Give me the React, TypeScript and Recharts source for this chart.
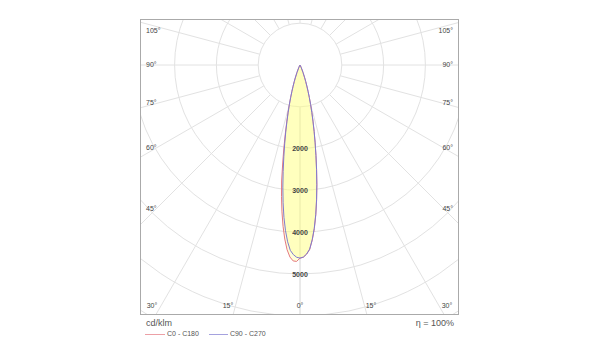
import React from "react";
import { RadarChart, Radar, PolarGrid, PolarAngleAxis, PolarRadiusAxis } from "recharts";

// gamma angles, degrees from nadir
const gamma = [0, 1, 2, 3, 4, 5, 6, 7, 8, 9, 10, 11, 12, 13, 14, 15, 16, 17, 18, 19, 20, 22, 25, 30, 35, 45, 60, 90, 120, 150, 180];
// luminous intensity, cd/klm
const c0 = [4620, 4600, 4530, 4420, 4200, 3930, 3610, 3260, 2900, 2540, 2200, 1900, 1630, 1380, 1170, 980, 810, 660, 530, 420, 330, 190, 75, 12, 0, 0, 0, 0, 0, 0, 0];
const c180 = [4620, 4700, 4690, 4600, 4430, 4180, 3880, 3540, 3180, 2810, 2380, 2020, 1700, 1420, 1190, 990, 820, 670, 540, 425, 335, 190, 75, 12, 0, 0, 0, 0, 0, 0, 0];
const c90 = [4620, 4595, 4525, 4410, 4190, 3920, 3600, 3250, 2890, 2530, 2195, 1895, 1625, 1378, 1168, 978, 808, 658, 528, 418, 328, 188, 74, 12, 0, 0, 0, 0, 0, 0, 0];
const c270 = [4620, 4600, 4540, 4440, 4240, 3980, 3670, 3320, 2950, 2580, 2230, 1920, 1640, 1390, 1175, 985, 815, 662, 532, 422, 332, 190, 75, 12, 0, 0, 0, 0, 0, 0, 0];

const ringLabels = [2000, 3000, 4000, 5000];
const sideAngleLabels = ["105°", "90°", "75°", "60°", "45°"];
const bottomAngleLabels = ["30°", "15°", "0°", "15°", "30°"];
const seriesNames = ["C0 - C180", "C90 - C270"];
const unitLabel = "cd/klm";
const efficiencyLabel = "η = 100%";

const RED = "#e47880";
const BLUE = "#7f7ad0";
const FONT = "'Liberation Sans', Arial, sans-serif";

// right half of the diagram is C0 / C90, left half C180 / C270
const rows = [
  ...gamma.map((g, i) => ({ pos: g, red: c0[i], blue: c90[i] })),
  ...gamma
    .map((g, i) => ({ pos: 360 - g, red: c180[i], blue: c270[i] }))
    .filter((r) => r.pos > 180 && r.pos < 360)
    .reverse(),
];

const pxPerCd = 41.8 / 1000;
const frame = { left: 140, top: 19, width: 319, height: 296 };
const center = { x: 300, y: 65 };

// label layout (page px)
const sideY = [31, 65, 103, 148, 209];
const bottomX = [152, 228, 300, 371, 447];

function RingTick(props: any) {
  const v = props.payload?.value;
  if (!ringLabels.includes(v)) return null;
  return (
    <text x={props.x} y={props.y} textAnchor="middle" dominantBaseline="central"
      fontSize={7} fontWeight="bold" fill="#444" fontFamily={FONT}>
      {v}
    </text>
  );
}

const small: React.CSSProperties = { position: "absolute", fontSize: 7, color: "#444", fontFamily: FONT, lineHeight: "8px", whiteSpace: "nowrap" };

export default function App() {
  return (
    <div style={{ position: "absolute", left: 0, top: 0, width: 600, height: 360, background: "#fff", fontFamily: FONT }}>
      <div style={{ position: "absolute", left: frame.left, top: frame.top, width: frame.width, height: frame.height, border: "1px solid #aaa", boxSizing: "border-box", overflow: "hidden" }}>
        <RadarChart
          width={frame.width - 2}
          height={frame.height - 2}
          data={rows}
          cx={center.x - frame.left - 1}
          cy={center.y - frame.top - 1}
          innerRadius={1000 * pxPerCd}
          outerRadius={8000 * pxPerCd}
          startAngle={-90}
          endAngle={270}
          margin={{ top: 0, right: 0, bottom: 0, left: 0 }}
        >
          <PolarGrid gridType="circle" stroke="#e2e2e2" />
          <PolarAngleAxis type="number" dataKey="pos" domain={[0, 360]} tickCount={25} tick={false} axisLine={false} />
          <Radar name={seriesNames[0]} dataKey="red" stroke={RED} strokeWidth={1} fill="#ffff80" fillOpacity={0.3} isAnimationActive={false} dot={false} />
          <Radar name={seriesNames[1]} dataKey="blue" stroke={BLUE} strokeWidth={1} fill="#ffff80" fillOpacity={0.3} isAnimationActive={false} dot={false} />
          <PolarRadiusAxis angle={-90} domain={[1000, 8000]} tickCount={8} allowDataOverflow axisLine={false} tick={RingTick} />
        </RadarChart>
      </div>

      {sideAngleLabels.map((t, i) => (
        <React.Fragment key={t}>
          <div style={{ ...small, left: 146, top: sideY[i] - 4 }}>{t}</div>
          <div style={{ ...small, right: 600 - 453, top: sideY[i] - 4 }}>{t}</div>
        </React.Fragment>
      ))}
      {bottomAngleLabels.map((t, i) => (
        <div key={i} style={{ ...small, left: bottomX[i] - 20, width: 40, textAlign: "center", top: 302 }}>{t}</div>
      ))}

      <div style={{ position: "absolute", left: 146, top: 318, fontSize: 9, color: "#555", lineHeight: "11px" }}>{unitLabel}</div>
      <div style={{ position: "absolute", right: 600 - 454, top: 318, fontSize: 9, color: "#555", lineHeight: "11px" }}>{efficiencyLabel}</div>
      <div style={{ position: "absolute", left: 145, top: 330, display: "flex", alignItems: "center", fontSize: 7, color: "#555", lineHeight: "8px" }}>
        <span style={{ display: "inline-block", width: 20, borderTop: `1px solid ${RED}`, marginRight: 2, opacity: 0.7 }} />
        <span>{seriesNames[0]}</span>
        <span style={{ display: "inline-block", width: 19, borderTop: `1px solid ${BLUE}`, marginLeft: 10, marginRight: 2, opacity: 0.7 }} />
        <span>{seriesNames[1]}</span>
      </div>
    </div>
  );
}
